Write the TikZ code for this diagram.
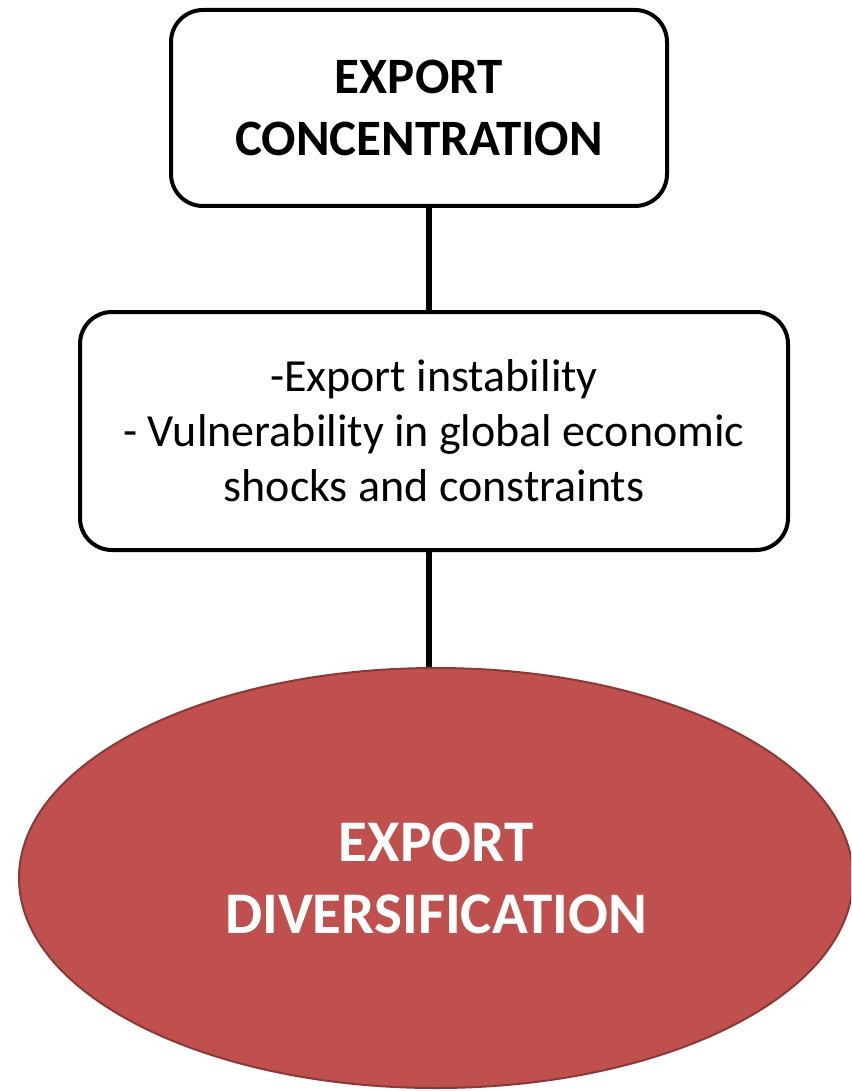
\documentclass[tikz,border=0pt]{standalone}
\usepackage{fontspec}
\setmainfont{Carlito}
\usetikzlibrary{shapes.geometric}
\definecolor{divred}{HTML}{C0504D}
\definecolor{divedge}{HTML}{8C3836}
\begin{document}
\begin{tikzpicture}[x=0.5pt,y=-0.5pt,
	box/.style={draw=black,line width=2pt,rounded corners=16pt,fill=white,align=center,inner sep=0pt},
	link/.style={line width=2.6pt}]
	\useasboundingbox (0,0) rectangle (851,1091);
	\clip (0,0) rectangle (851,1091);
	\node[box,minimum width=248pt,minimum height=98pt,font=\fontsize{25.5}{31}\selectfont\bfseries] (conc) at (419,108) {EXPORT\\CONCENTRATION};
	\node[box,minimum width=354pt,minimum height=119pt,font=\fontsize{23}{27.5}\selectfont] (risk) at (434,431) {-Export instability\\- Vulnerability in global economic\\shocks and constraints};
	\node[ellipse,draw=divedge,line width=1pt,fill=divred,text=white,minimum width=417pt,minimum height=210pt,inner sep=0pt,align=center,font=\fontsize{29.5}{36}\selectfont\bfseries] (div) at (436,878) {EXPORT\\DIVERSIFICATION};
	\coordinate (spine) at (429,0);
	\draw[link] (conc.south -| spine) -- (risk.north -| spine);
	\draw[link] (risk.south -| spine) -- (div.north -| spine);
\end{tikzpicture}
\end{document}
